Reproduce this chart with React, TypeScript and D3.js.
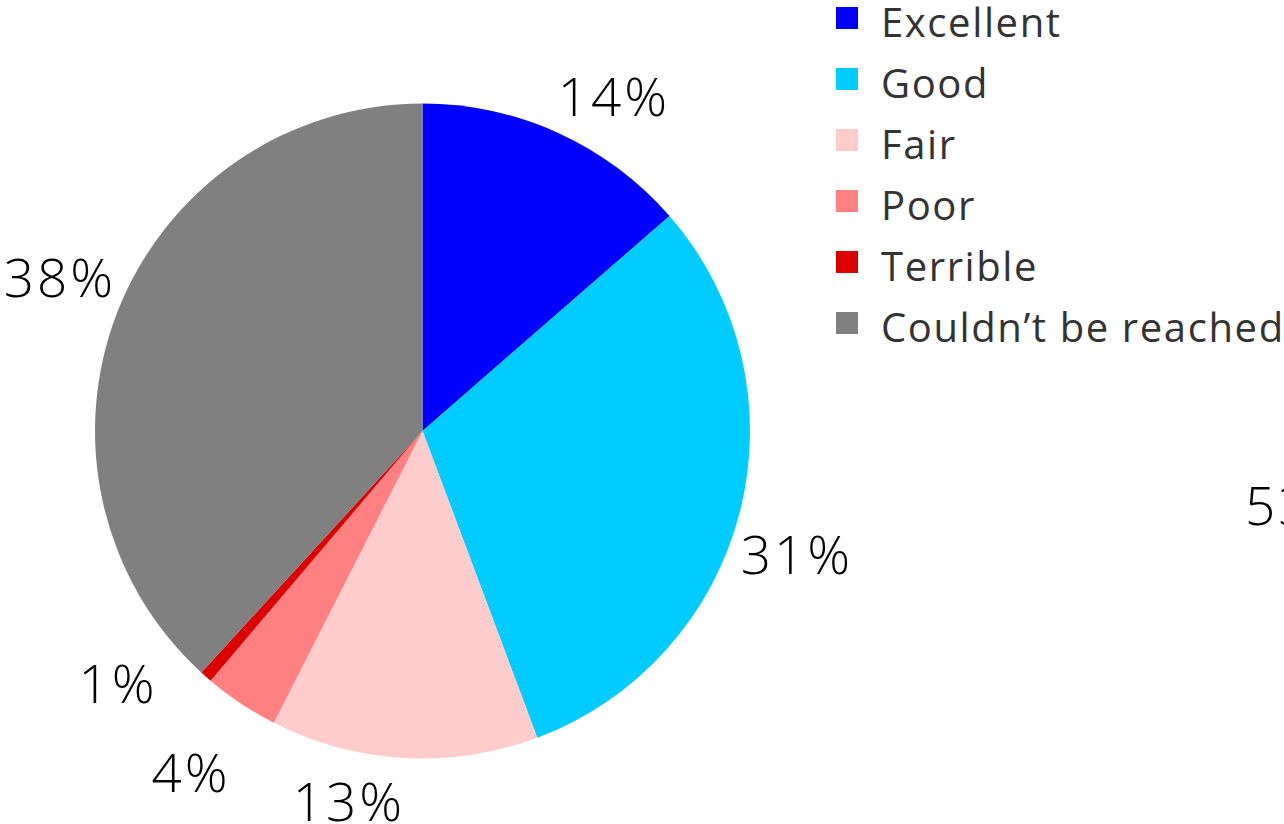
import React from "react";
import * as d3 from "d3";

const categories = ["Excellent", "Good", "Fair", "Poor", "Terrible", "Couldn\u2019t be reached"];
const values = [13.6, 30.7, 13.2, 3.7, 0.6, 38.2];
const colors = ["#0000FF", "#00CCFF", "#FFCCCC", "#FF8080", "#DD0000", "#808080"];
const cutOffLabel = "53%";

// layout: label centre x and baseline y per slice
const labelLayout = [
  [614, 116],
  [797, 574],
  [349, 821],
  [191, 792],
  [118, 703],
  [60, 297],
];

const W = 1284;
const H = 824;
const cx = 422.5;
const cy = 431;
const R = 327.5;
const FONT = "'Open Sans', 'Noto Sans', sans-serif";

export default function App() {
  const pie = d3.pie<number>().sort(null).value((d) => d);
  const arcs = pie(values);
  const arc = d3.arc<d3.PieArcDatum<number>>().innerRadius(0).outerRadius(R);
  const total = d3.sum(values);
  const fmt = (v: number) => `${Math.round((v / total) * 100)}%`;

  return (
    <svg
      width={W}
      height={H}
      style={{ position: "absolute", left: 0, top: 0, background: "#fff" }}
    >
      <g transform={`translate(${cx},${cy})`}>
        {arcs.map((a, i) => (
          <path key={i} d={arc(a) || ""} fill={colors[i]} />
        ))}
      </g>
      {arcs.map((a, i) => (
        <text
          key={"l" + i}
          x={labelLayout[i][0]}
          y={labelLayout[i][1]}
          textAnchor="middle"
          fontFamily={FONT}
          fontWeight={300}
          fontSize={53}
          letterSpacing={3}
          fill="#000"
        >
          {fmt(a.value)}
        </text>
      ))}
      <text x={1245} y={525} fontFamily={FONT} fontWeight={300} fontSize={53} letterSpacing={3} fill="#000">
        {cutOffLabel}
      </text>
      {categories.map((c, i) => (
        <g key={"g" + i}>
          <rect x={836} y={7 + i * 61} width={22} height={22} fill={colors[i]} />
          <text
            x={881}
            y={37 + i * 61}
            fontFamily={FONT}
            fontSize={40}
            letterSpacing={1.6}
            fill="#333"
          >
            {c}
          </text>
        </g>
      ))}
    </svg>
  );
}
